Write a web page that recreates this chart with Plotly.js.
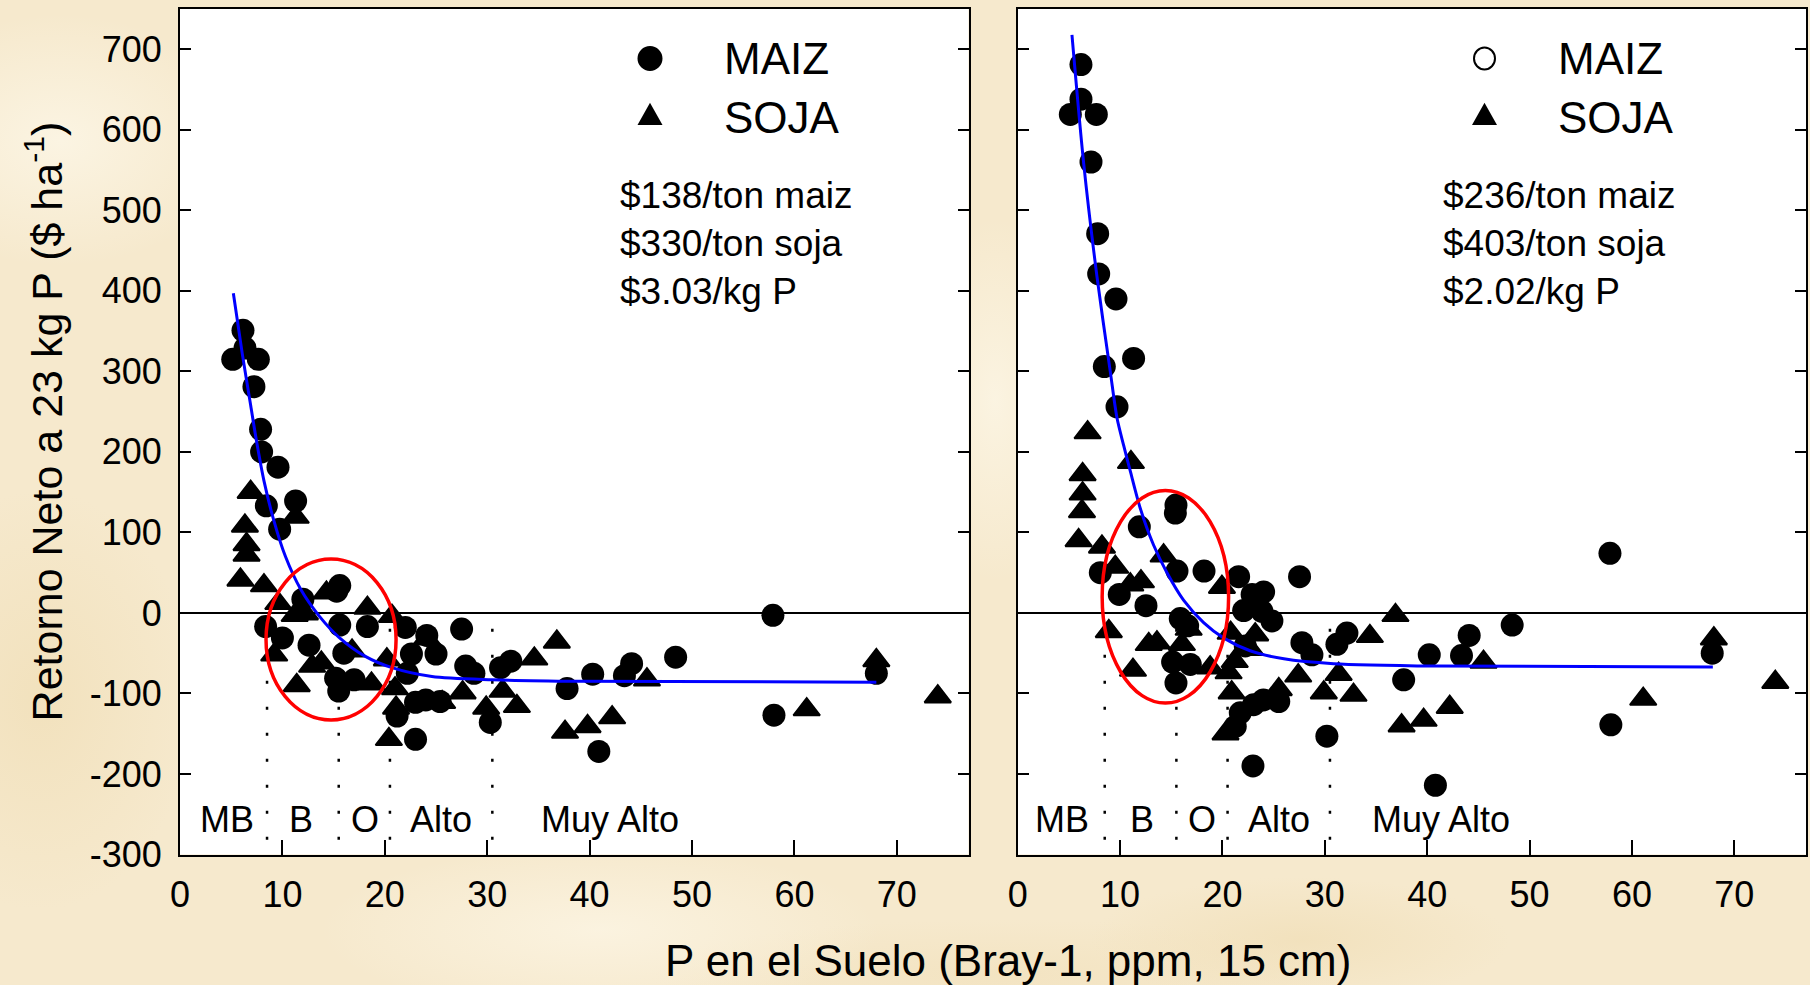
<!DOCTYPE html>
<html>
<head>
<meta charset="utf-8">
<script src="https://cdn.plot.ly/plotly-3.0.1.min.js"></script>
<style>
  html, body { margin: 0; padding: 0; }
  body {
    width: 1810px; height: 985px; overflow: hidden;
    background-color: #f6e9cd;
    background-image:
      radial-gradient(ellipse 260px 180px at 60px 140px, rgba(252,246,230,0.85), rgba(252,246,230,0) 70%),
      radial-gradient(ellipse 220px 300px at 40px 700px, rgba(240,222,182,0.7), rgba(240,222,182,0) 70%),
      radial-gradient(ellipse 400px 120px at 600px 930px, rgba(252,245,228,0.8), rgba(252,245,228,0) 70%),
      radial-gradient(ellipse 300px 90px at 1300px 940px, rgba(239,220,178,0.6), rgba(239,220,178,0) 70%),
      radial-gradient(ellipse 120px 260px at 995px 400px, rgba(252,246,230,0.8), rgba(252,246,230,0) 70%),
      radial-gradient(ellipse 500px 80px at 1000px 975px, rgba(241,224,186,0.6), rgba(241,224,186,0) 70%);
  }
  #chart { width: 1810px; height: 985px; }
</style>
</head>
<body>
<div id="chart"></div>
<script>
// Retorno neto a 23 kg P/ha según P Bray-1 del suelo, para dos escenarios de precios.

// Escenario A: $138/ton maiz, $330/ton soja, $3.03/kg P
const maizAX = [6.15, 6.35, 5.15, 7.65, 7.22, 7.87, 7.97, 9.57, 8.43, 11.29, 9.73, 12.0,
  15.6, 15.3, 8.36, 10.0, 12.6, 15.6, 18.3, 16.0, 15.2, 17.0, 15.5, 22.0, 24.1, 25.0,
  22.6, 22.2, 23.0, 24.0, 25.4, 21.2, 23.0, 27.5, 27.9, 28.7, 31.3, 32.3, 30.3, 37.8,
  40.3, 40.9, 43.4, 44.1, 48.4, 57.9, 58.0, 68.0];
const maizAY = [351, 329, 315, 315, 281, 228, 200, 181, 133, 139, 104, 17,
  34, 27, -17, -31, -40, -15, -17, -50, -81, -83, -97, -18, -28, -51,
  -51, -75, -111, -108, -110, -128, -157, -20, -66, -75, -68, -60, -136, -94,
  -76, -172, -78, -63, -55, -3, -127, -75];
const sojaAX = [6.9, 6.34, 6.5, 6.5, 5.9, 8.2, 9.6, 11.3, 11.2, 12.2, 9.2, 11.4, 12.9,
  13.8, 14.3, 18.3, 16.8, 18.7, 20.7, 20.2, 21.0, 21.1, 20.4, 24.1, 25.6, 27.6, 29.9,
  31.5, 32.9, 34.6, 36.8, 37.6, 39.8, 42.2, 45.6, 61.2, 68.0, 74.0];
const sojaAY = [150, 108, 85, 72, 41, 34, 12, 119, -3, -1, -52, -90, -66,
  -62, 25, 6, -47, -88, -4, -58, -94, -118, -157, -32, -111, -99, -118,
  -97, -116, -57, -36, -148, -141, -130, -83, -120, -59, -104];
const ajusteAX = [5.21, 6.08, 6.9, 7.45, 8.2, 9.18, 10.3, 11.8, 13.6, 15.5, 18.1, 20.7, 24.6, 30.5, 39, 68];
const ajusteAY = [397, 322, 258, 215, 164, 114, 70, 29, -4, -30, -54, -68, -79, -83, -85, -86];
const preciosA = ['$138/ton maiz', '$330/ton soja', '$3.03/kg P'];

// Escenario B: $236/ton maiz, $403/ton soja, $2.02/kg P
const maizBX = [6.18, 6.18, 5.14, 7.68, 7.16, 7.81, 7.91, 9.6, 8.46, 11.32, 9.7, 15.46,
  15.4, 11.88, 8.07, 9.92, 12.53, 15.56, 18.2, 21.58, 24.02, 22.9, 22.07, 23.86, 24.83,
  27.53, 15.88, 16.6, 15.13, 16.86, 15.46, 22.23, 27.76, 28.74, 31.18, 32.16, 37.7,
  30.2, 22.98, 21.25, 21.74, 23.04, 24.0, 25.5, 40.2, 44.1, 43.35, 48.3, 57.85, 57.94,
  67.84, 40.8];
const maizBY = [681, 638, 619, 619, 560, 471, 421, 390, 306, 316, 256, 134,
  124, 107, 50, 23, 9, 52, 52, 45, 26, 23, 3, 2, -10,
  45, -7, -16, -61, -64, -87, -41, -37, -52, -39, -25, -83,
  -153, -190, -141, -124, -114, -108, -110, -52, -28, -53, -15, 74, -139,
  -50, -214];
const sojaBX = [6.83, 11.06, 6.34, 6.34, 6.28, 5.95, 8.23, 9.53, 11.0, 12.04, 14.25,
  8.9, 12.8, 13.6, 11.26, 16.04, 16.7, 18.8, 19.95, 20.6, 20.9, 20.3, 20.8, 22.7, 21.2,
  23.2, 25.5, 27.4, 29.9, 31.35, 32.8, 34.4, 36.9, 37.5, 39.65, 42.2, 45.5, 61.1, 68.0, 74.0];
const sojaBY = [224, 187, 172, 148, 126, 90, 82, 57, 35, 39, 71,
  -23, -39, -37, -71, -39, -20, -68, 32, -74, -99, -150, -25, -45, -60,
  -27, -95, -78, -99, -76, -102, -29, -3, -140, -133, -117, -61, -107, -32, -86];
const ajusteBX = [5.3, 6.44, 7.74, 9.04, 9.7, 10.35, 11.0, 11.97, 13.28, 14.58, 16.2, 18.16, 20.1, 22.7, 26.0, 30.86, 40.9, 67.9];
const ajusteBY = [718, 559, 418, 300, 242, 208, 176, 130, 84, 50, 16, -12, -31, -47, -57, -63, -66, -67];
const preciosB = ['$236/ton maiz', '$403/ton soja', '$2.02/kg P'];

// Clases de disponibilidad de P
const zonaNombres = ['MB', 'B', 'O', 'Alto', 'Muy Alto'];
const zonaLimites = [8.5, 15.5, 20.5, 30.5];

const xTicks = [0, 10, 20, 30, 40, 50, 60, 70];
const yTicks = [-300, -200, -100, 0, 100, 200, 300, 400, 500, 600, 700];
const yTickText = yTicks.map(v => String(v));

// ---------------------------------------------------------------------------
const FONT = 'Liberation Sans, Arial, Helvetica, sans-serif';
const W = 1810, H = 985;
const px = v => v / W;
const py = v => 1 - v / H;

const circMarker = { symbol: 'circle', size: 23, color: '#000', line: { width: 0 } };
const triMarker = { symbol: 'triangle-up', size: 23, color: '#000', line: { width: 2, color: '#000' } };

function panelTraces(xa, ya, sx, sy, mx, my, fx, fy) {
  return [
    { type: 'scatter', mode: 'markers', x: sx, y: sy, xaxis: xa, yaxis: ya,
      marker: triMarker, name: 'SOJA', hoverinfo: 'skip', showlegend: false, cliponaxis: true },
    { type: 'scatter', mode: 'markers', x: mx, y: my, xaxis: xa, yaxis: ya,
      marker: circMarker, name: 'MAIZ', hoverinfo: 'skip', showlegend: false, cliponaxis: true },
    { type: 'scatter', mode: 'lines', x: fx, y: fy, xaxis: xa, yaxis: ya,
      line: { color: '#0000ff', width: 3, shape: 'spline', smoothing: 0.8 },
      hoverinfo: 'skip', showlegend: false }
  ];
}

const data = [
  ...panelTraces('x', 'y', sojaAX, sojaAY, maizAX, maizAY, ajusteAX, ajusteAY),
  ...panelTraces('x2', 'y2', sojaBX, sojaBY, maizBX, maizBY, ajusteBX, ajusteBY)
];

const tickFont = { family: FONT, size: 36, color: '#000' };

function xAxis(domain, anchor) {
  return {
    domain, anchor, range: [0, 77], tickmode: 'array', tickvals: xTicks, ticktext: xTicks.map(String),
    ticks: 'inside', ticklen: 15, tickwidth: 2, tickcolor: '#000',
    showline: true, linecolor: '#000', linewidth: 2, mirror: true,
    showgrid: false, zeroline: false, tickfont: tickFont, ticklabelstandoff: 7, fixedrange: true
  };
}
function yAxis(anchor, labels) {
  return {
    domain: [1 - 854.5 / H, 1 - 9 / H], anchor, range: [-300, 750],
    tickmode: 'array', tickvals: yTicks, ticktext: yTickText, showticklabels: labels,
    ticks: 'inside', ticklen: 11, tickwidth: 2, tickcolor: '#000',
    showline: true, linecolor: '#000', linewidth: 2, mirror: 'ticks',
    showgrid: false, zeroline: true, zerolinecolor: '#000', zerolinewidth: 2,
    tickfont: tickFont, ticklabelstandoff: 9, fixedrange: true
  };
}

const annotations = [];
const shapes = [];
function note(text, x, y, size, extra) {
  annotations.push(Object.assign({
    text, x, y, xref: 'paper', yref: 'paper', showarrow: false,
    xanchor: 'left', yanchor: 'middle', font: { family: FONT, size, color: '#000' }
  }, extra || {}));
}

// Axis titles shared by both panels
note('Retorno Neto a 23 kg P ($ ha<sup>-1</sup>)', px(44.4), py(421), 43, { xanchor: 'center', textangle: -90 });
note('P en el Suelo (Bray-1, ppm, 15 cm)', px(1007.7), py(960.4), 44, { xanchor: 'center' });

function panelDecor(xref, left, legendX, textX, priceX, precios, openCircle, zonaX) {
  // Legend keys
  const yc = 1 - 58.5 / H, yt = 1 - 117.5 / H;
  if (openCircle) {
    shapes.push({ type: 'circle', xref: 'paper', yref: 'paper', xsizemode: 'pixel', ysizemode: 'pixel',
      xanchor: px(legendX), yanchor: yc, x0: -10.5, x1: 10.5, y0: -11, y1: 11,
      fillcolor: '#fff', line: { color: '#000', width: 2 } });
  } else {
    shapes.push({ type: 'circle', xref: 'paper', yref: 'paper', xsizemode: 'pixel', ysizemode: 'pixel',
      xanchor: px(legendX), yanchor: yc, x0: -12.5, x1: 12.5, y0: -12.5, y1: 12.5,
      fillcolor: '#000', line: { width: 0 } });
  }
  shapes.push({ type: 'path', xref: 'paper', yref: 'paper', xsizemode: 'pixel', ysizemode: 'pixel',
    xanchor: px(legendX), yanchor: yt, path: 'M-12.5,-7.5 L12.5,-7.5 L0,14.8 Z',
    fillcolor: '#000', line: { width: 0 } });
  note('MAIZ', px(textX), py(58.5), 44);
  note('SOJA', px(textX), py(117), 44);
  [195, 243.5, 291.8].forEach((y, i) => note(precios[i], px(priceX), py(y), 37));

  // Class limits (dotted) and class names
  zonaLimites.forEach(v => shapes.push({
    type: 'line', xref, yref: left ? 'y' : 'y2', x0: v, x1: v, y0: -281.6, y1: -15,
    layer: 'below', line: { color: '#000', width: 2.5, dash: '3px,23px' }
  }));
  zonaNombres.forEach((t, i) => annotations.push({
    text: t, xref, yref: left ? 'y' : 'y2', x: zonaX[i], y: -257, showarrow: false,
    xanchor: 'center', yanchor: 'middle', font: { family: FONT, size: 36, color: '#000' }
  }));
}

panelDecor('x', true, 650, 722, 617.5, preciosA, false, [4.6, 11.8, 18.1, 25.5, 42.0]);
panelDecor('x2', false, 1484.5, 1556, 1440.5, preciosB, true, [4.3, 12.1, 18.0, 25.5, 41.3]);

// Zona de respuesta destacada
shapes.push({ type: 'circle', xref: 'x', yref: 'y', x0: 8.4, x1: 21.1, y0: -133, y1: 67,
  line: { color: '#ff0000', width: 3.5 }, fillcolor: 'rgba(0,0,0,0)' });
shapes.push({ type: 'circle', xref: 'x2', yref: 'y2', x0: 8.25, x1: 20.6, y0: -112, y1: 152,
  line: { color: '#ff0000', width: 3.5 }, fillcolor: 'rgba(0,0,0,0)' });

const layout = {
  width: W, height: H, autosize: false,
  margin: { l: 0, r: 0, t: 0, b: 0, pad: 0 },
  paper_bgcolor: 'rgba(0,0,0,0)', plot_bgcolor: '#ffffff',
  showlegend: false,
  font: { family: FONT, color: '#000' },
  xaxis: xAxis([180 / W, 968.5 / W], 'y'),
  yaxis: yAxis('x', true),
  xaxis2: xAxis([1017.7 / W, 1806 / W], 'y2'),
  yaxis2: yAxis('x2', false),
  annotations, shapes
};

Plotly.newPlot('chart', data, layout, { displayModeBar: false, staticPlot: true });
</script>
</body>
</html>
